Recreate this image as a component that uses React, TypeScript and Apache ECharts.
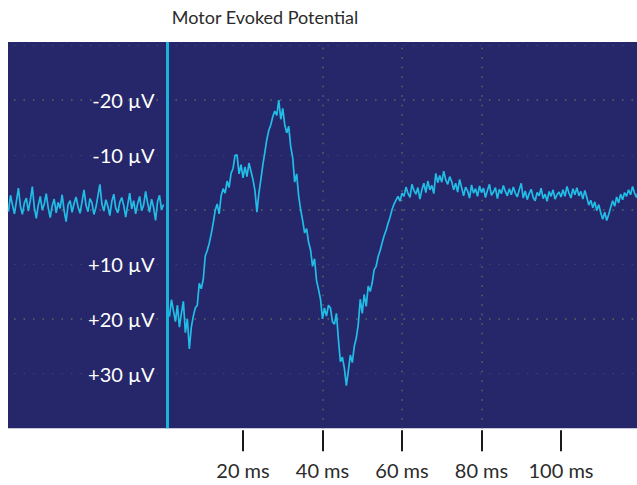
import React, { useEffect, useRef } from "react";
import * as echarts from "echarts";

// ---- Data ----
const TITLE = "Motor Evoked Potential";
const STEP_MS = 0.5;
const PRE_START_MS = -39;
// pre-stimulus baseline (µV), -39 .. 0 ms
const preStim = [
  0.4, -2.6, -0.9, 0.8, -1.5, -3.9, -0.6, 0.9, -1.2, -2.1, 0.3, -1.7, -4.2, -0.4, 1.6, -0.8, -2.4, 0.1,
  -1.0, -2.9, -0.3, 1.5, -0.7, -1.9, 0.6, -1.3, -0.2, -2.7, 0.2, 2.2, -0.9, -1.6, 0.5, -1.1, -2.3, -0.5, 0.7, -1.4,
  -3.6, -0.8, 0.4, -2.0, -1.2, 0.9, -0.4, -2.5, -4.6, -1.0, 0.3, -1.8, -0.6, 1.1, -1.5, -2.8, -0.2, 0.6, -1.3, -2.2,
  -0.7, 1.4, -0.9, -3.0, -0.1, -1.6, 0.8, -1.1, -2.4, 0.2, -0.8, -3.3, -1.2, 0.5, -1.9, -0.4, 2.0, -1.4, -2.6, 0.1, -0.9,
];
const STIM_MS = 1.0;
const RESP_START_MS = 1.5;
// evoked response (µV), 1.5 .. 60 ms
const response = [
  19.6, 16.5, 18.5, 20.5, 17.5, 21.5, 19.0, 16.8, 22.5, 20.0, 25.5, 21.5, 19.5, 18.0, 17.5, 13.5, 14.5, 12.8,
  8.5, 7.5, 6.2, 4.5, 2.5, 0.2, -1.0, 0.8, -2.5, -3.8, -3.0, -5.2, -4.0, -6.6, -7.5, -9.9, -10.0, -6.5, -8.2,
  -5.8, -7.8, -6.0, -8.5, -7.0, -5.5, -3.5, 0.5, -3.0, -5.5, -8.2, -10.5, -12.8, -14.5, -15.5, -17.0, -18.0,
  -17.2, -20.0, -16.5, -18.5, -15.5, -14.0, -15.2, -11.5, -9.5, -5.0, -6.5, -2.5, 0.0, 2.0, 4.3, 3.5, 6.0,
  7.4, 10.4, 9.0, 13.0, 14.6, 16.4, 20.0, 18.0, 19.5, 17.5, 18.0, 20.5, 21.0, 19.0, 23.7, 27.8, 27.0, 29.0,
  32.2, 29.5, 26.6, 28.0, 25.0, 23.5, 21.0, 16.4, 19.0, 15.5, 17.7, 14.0, 15.0, 13.4, 11.0, 10.4, 8.6, 7.5,
  6.1, 4.8, 3.8, 2.5, 1.4, 0.0, -1.0, -1.7, -2.4, -1.5, -3.0,
];
const TAIL_START_MS = 60.5;
// late baseline (µV), 60.5 .. 119.5 ms
const tail = [
  -2.4, -4.1, -3.0, -2.2, -4.6, -3.5, -2.8, -4.0, -1.9, -3.6,
  -4.8, -3.1, -5.2, -3.6, -4.4, -2.9,
  -6.6, -4.9, -6.2, -5.0, -7.0, -5.4, -4.6, -6.0,
  -5.1, -3.6, -4.8, -3.2, -5.5, -4.0,
  -2.5, -4.1, -3.4, -2.1, -4.5, -3.0, -3.8, -2.4, -4.3, -3.1,
  -3.9, -2.2, -3.5, -4.6, -2.6, -3.2, -4.0, -2.0, -3.7, -2.9, -4.4, -3.3, -2.5, -3.8, -2.7, -4.1, -3.0, -2.3, -3.6, -4.8,
  -2.1, -3.4, -1.8, -2.9, -3.7, -2.2, -1.6, -3.1, -2.5, -3.9, -2.0, -2.8, -1.5, -3.3, -2.4, -3.6, -1.9, -2.7, -3.2, -2.3,
  -3.6, -2.4, -4.2, -3.0, -2.1, -3.8, -2.7, -4.0, -2.5, -3.3, -1.9, -3.5,
  -2.2, -0.8, -1.7, -0.3, -1.4, 0.2, -0.9, 0.6,
  1.8, 0.5, 2.0, 0.9,
  -0.4, -1.6, -0.6, -2.3, -1.2, -2.8, -1.8, -3.1,
  -2.4, -3.6, -2.7, -4.2, -3.0, -2.2, -3.5,
];
const xTickValues = [20, 40, 60, 80, 100];
const yLabelValues = [-20, -10, 10, 20, 30];

const toPairs = (start: number, arr: number[]) => arr.map((v, i) => [start + i * STEP_MS, v]);

const BG = "#26266a";
const TRACE = "#22bde6";
const FONT = "Lato";

export default function App() {
  const ref = useRef<HTMLDivElement>(null);
  useEffect(() => {
    if (!ref.current) return;
    const chart = echarts.init(ref.current, undefined, { renderer: "svg" });
    const dotted = { color: "#5d6a5e", width: 1.5, type: [1.5, 8] as any };
    const faint = { color: "#3c4274", width: 1.2, type: [1.5, 8] as any };
    const lineStyle = { color: TRACE, width: 1.7 };
    chart.setOption({
      animation: false,
      backgroundColor: "#ffffff",
      title: {
        text: TITLE,
        left: 265,
        top: 8,
        textAlign: "center",
        padding: 0,
        textStyle: { fontFamily: FONT, fontSize: 18, fontWeight: "normal", color: "#2b2b2b" },
      },
      graphic: [
        { type: "rect", z: -10, shape: { x: 8, y: 42, width: 629, height: 386.3 }, style: { fill: BG } },
        { type: "rect", z: 1, shape: { x: 0, y: 0, width: 637, height: 41.5 }, style: { fill: "#ffffff" } },
        { type: "rect", z: 1, shape: { x: 0, y: 0, width: 8, height: 485 }, style: { fill: "#ffffff" } },
      ],
      grid: { left: 4.5, top: -9.3, width: 636, height: 437.6, outerBoundsMode: "none", containLabel: false },
      xAxis: {
        type: "value",
        min: -40,
        max: 120,
        interval: 20,
        position: "bottom",
        offset: 2,
        axisLine: { show: false, onZero: false },
        axisTick: { show: true, customValues: xTickValues, length: 21, lineStyle: { color: "#1a1a1a", width: 2 } },
        axisLabel: {
          customValues: xTickValues,
          formatter: (v: number) => `${v} ms`,
          color: "#2b2b2b",
          fontSize: 20,
          fontFamily: FONT,
          margin: 30,
        },
        splitLine: { show: true, showMinLine: false, showMaxLine: false, lineStyle: dotted },
      },
      yAxis: {
        type: "value",
        inverse: true,
        min: -40,
        max: 40,
        interval: 20,
        offset: -159,
        axisLine: { show: false, onZero: false },
        axisTick: { show: false },
        axisLabel: {
          customValues: yLabelValues,
          formatter: (v: number) => (v < 0 ? `-${Math.abs(v)} µV` : `+${v} µV`),
          color: "#ffffff",
          fontSize: 20,
          fontFamily: FONT,
          margin: 9,
        },
        splitLine: { show: true, showMinLine: false, showMaxLine: false, lineStyle: dotted },
        minorTick: { show: false, splitNumber: 2 },
        minorSplitLine: { show: true, lineStyle: faint },
      },
      series: [
        {
          type: "line",
          data: toPairs(PRE_START_MS, preStim),
          showSymbol: false,
          lineStyle,
          z: 3,
          markLine: {
            silent: true,
            symbol: "none",
            label: { show: false },
            lineStyle: { color: "#1bb3d9", width: 3, type: "solid" },
            data: [[{ coord: [STIM_MS, -30.6] }, { coord: [STIM_MS, 40] }]],
          },
        },
        {
          type: "line",
          data: [...toPairs(RESP_START_MS, response), ...toPairs(TAIL_START_MS, tail)],
          showSymbol: false,
          lineStyle,
          z: 3,
        },
      ],
    });
    return () => chart.dispose();
  }, []);
  return <div ref={ref} style={{ position: "fixed", left: 0, top: 0, width: 637, height: 485 }} />;
}
